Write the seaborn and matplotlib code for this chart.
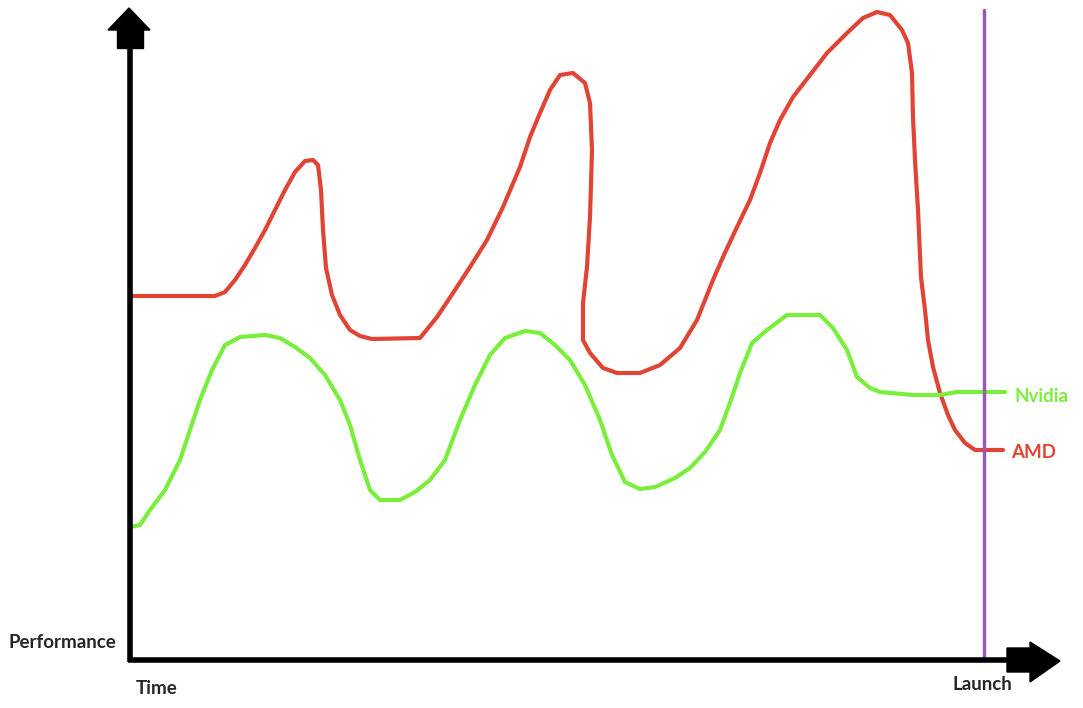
import matplotlib
matplotlib.use("Agg")
import matplotlib.pyplot as plt
from matplotlib.patches import Polygon
import pandas as pd
import seaborn as sns

# Curves (x = time, y = performance in screen px, 0 at top)
amd_x = [130, 215, 225, 235, 245, 255, 265, 275, 285, 295, 305, 313, 318, 321, 323, 326,
         332, 340, 350, 360, 372, 420, 437, 453, 470, 487, 503, 520, 530, 540, 550, 560,
         573, 585, 590, 592, 590, 587, 583, 583, 590, 603, 617, 640, 660, 680, 697, 713,
         723, 737, 750, 760, 770, 780, 793, 810, 827, 847, 863, 877, 890, 902, 908, 912,
         913, 915, 918, 921, 925, 928, 933, 940, 948, 955, 965, 975, 1003]
amd_y = [296, 296, 292, 280, 265, 248, 230, 210, 190, 172, 161, 160, 165, 190, 230, 268,
         295, 315, 330, 336, 339, 338, 317, 293, 267, 240, 207, 167, 137, 113, 90, 75,
         73, 83, 103, 150, 217, 267, 303, 340, 353, 368, 373, 373, 365, 348, 320, 280,
         257, 227, 200, 173, 143, 120, 97, 75, 53, 33, 18, 12, 15, 30, 43, 73,
         117, 160, 210, 277, 310, 340, 367, 393, 415, 430, 443, 450, 450]

nvidia_x = [130, 140, 150, 165, 180, 190, 200, 212, 225, 240, 265, 280, 295, 310, 325, 340,
            350, 360, 370, 380, 400, 415, 430, 445, 460, 475, 490, 505, 525, 540, 555, 570,
            585, 600, 612, 625, 640, 655, 675, 690, 705, 720, 732, 740, 752, 767, 787, 820,
            833, 847, 857, 870, 880, 913, 940, 957, 1005]
nvidia_y = [527, 525, 510, 490, 460, 430, 400, 370, 345, 337, 335, 338, 347, 358, 375, 400,
            425, 460, 490, 500, 500, 492, 480, 460, 420, 385, 355, 338, 331, 333, 345, 360,
            385, 420, 455, 482, 489, 487, 478, 468, 452, 430, 397, 373, 343, 330, 315, 315,
            328, 350, 377, 388, 392, 395, 395, 392, 392]

launch_x = 984

RED = "#e04434"
GREEN = "#7aee3c"
PURPLE = "#9b59b6"

amd = pd.DataFrame({"t": amd_x, "perf": amd_y})
nvidia = pd.DataFrame({"t": nvidia_x, "perf": nvidia_y})

sns.set_style("white")
plt.rcParams['font.family'] = ['Lato', 'DejaVu Sans']

fig = plt.figure(figsize=(10.83, 7.08), dpi=100)
ax = fig.add_axes([0, 0, 1, 1])
ax.set_xlim(0, 1083)
ax.set_ylim(708, 0)
ax.axis("off")

# estimator=None keeps the drawn path as is (the AMD line goes back on itself)
sns.lineplot(data=amd, x="t", y="perf", sort=False, estimator=None, color=RED, lw=3, ax=ax)
sns.lineplot(data=nvidia, x="t", y="perf", sort=False, estimator=None, color=GREEN, lw=3, ax=ax)
ax.plot([launch_x, launch_x], [10, 660], color=PURPLE, lw=2.5)

# axes drawn like the paint arrows
ax.plot([130, 130], [662, 45], color="black", lw=4, solid_capstyle="butt")
ax.plot([128, 1010], [660, 660], color="black", lw=4, solid_capstyle="butt")
ax.add_patch(Polygon([(117, 28), (143, 28), (143, 48), (117, 48)], closed=True, color="black"))
ax.add_patch(Polygon([(108, 30), (129, 8), (150, 30)], closed=True, color="black"))
ax.add_patch(Polygon([(1007, 648), (1030, 648), (1030, 642), (1060, 661),
                      (1030, 682), (1030, 672), (1007, 672)], closed=True, color="black"))

ax.text(8, 643, "Performance", fontsize=13.5, fontweight="bold", va="center", ha="left")
ax.text(136, 688, "Time", fontsize=13.5, fontweight="bold", va="center", ha="left")
ax.text(952, 685, "Launch", fontsize=13.5, fontweight="bold", va="center", ha="left")
ax.text(1014, 396, "Nvidia", fontsize=13.5, fontweight="bold", va="center", ha="left", color=GREEN)
ax.text(1011, 453, "AMD", fontsize=13.5, fontweight="bold", va="center", ha="left", color=RED)

fig.savefig("out.png", dpi=100)
